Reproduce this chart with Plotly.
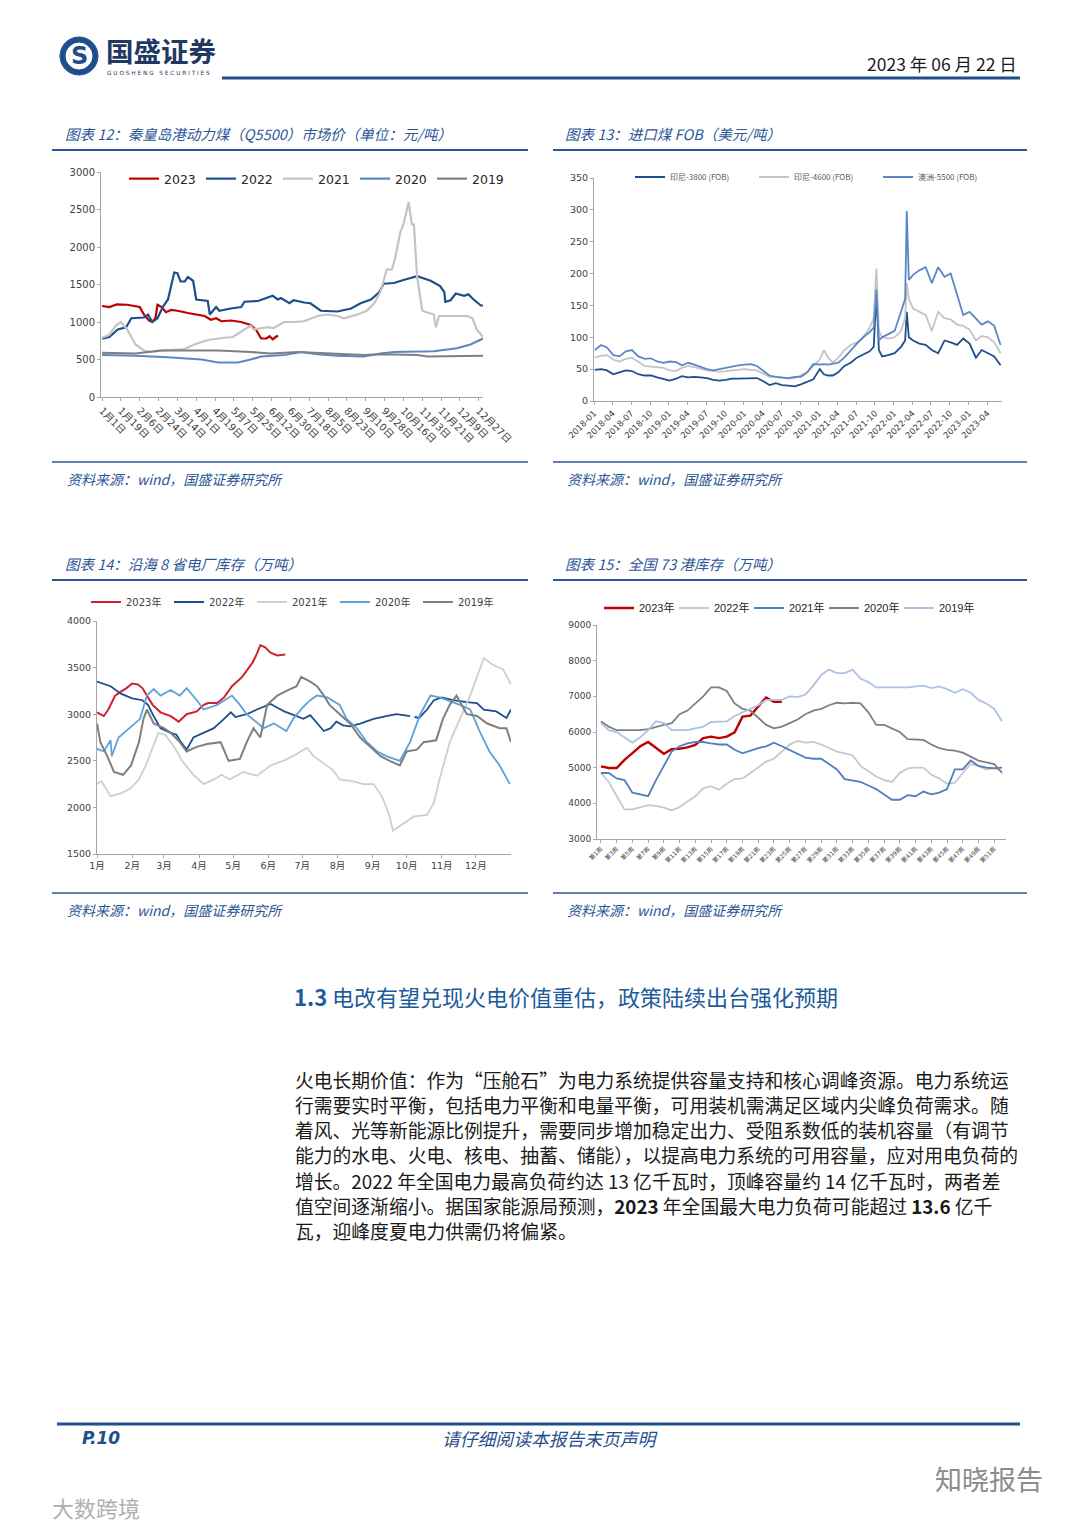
import plotly.graph_objects as go

W, H = 1080, 1527
def X(px): return px / W
def Y(py): return 1 - py / H

# ---------------- Chart 12: 秦皇岛港动力煤 (day of year) ----------------
c12_tickdays = [1, 19, 37, 55, 73, 91, 109, 127, 145, 163, 181, 199, 217, 235, 253, 271, 289, 307, 325, 343, 361]
c12_ticklabels = ["1月1日", "1月19日", "2月6日", "2月24日", "3月14日", "4月1日", "4月19日", "5月7日", "5月25日",
                  "6月12日", "6月30日", "7月18日", "8月5日", "8月23日", "9月10日", "9月28日", "10月16日",
                  "11月3日", "11月21日", "12月9日", "12月27日"]
c12_days_2023 = [1, 8, 15, 25, 37, 41, 46, 49, 52, 54, 58, 62, 67, 73, 83, 92, 99, 105, 110, 115, 124, 134, 143, 148, 153, 158, 161, 164, 169]
c12_val_2023 = [1213, 1200, 1235, 1230, 1200, 1100, 1020, 1000, 1050, 1230, 1200, 1130, 1160, 1150, 1120, 1100, 1080, 1030, 1050, 1010, 1020, 1000, 960, 900, 780, 780, 810, 770, 820]
c12_days_2022 = [1, 8, 16, 24, 29, 41, 45, 49, 54, 59, 64, 67, 70, 73, 76, 80, 83, 88, 91, 102, 104, 110, 113, 124, 134, 137, 150, 156, 164, 169, 172, 180, 184, 194, 200, 210, 226, 239, 248, 258, 266, 270, 280, 289, 299, 302, 315, 324, 328, 329, 334, 339, 347, 351, 356, 363, 365]
c12_val_2022 = [778, 800, 900, 930, 1050, 1060, 1100, 1000, 1050, 1200, 1300, 1500, 1660, 1650, 1540, 1540, 1600, 1550, 1300, 1280, 1100, 1200, 1150, 1180, 1200, 1270, 1280, 1310, 1350, 1300, 1320, 1250, 1290, 1260, 1250, 1150, 1140, 1180, 1250, 1300, 1400, 1510, 1520, 1560, 1600, 1610, 1550, 1480, 1400, 1270, 1290, 1380, 1350, 1370, 1300, 1220, 1220]
c12_days_2021 = [1, 8, 14, 19, 25, 33, 41, 48, 60, 80, 89, 102, 118, 126, 137, 143, 146, 159, 165, 175, 184, 194, 207, 216, 226, 232, 245, 254, 261, 267, 273, 278, 281, 286, 289, 294, 297, 299, 302, 307, 318, 320, 323, 350, 355, 359, 365]
c12_val_2021 = [790, 830, 950, 1000, 900, 700, 620, 600, 620, 640, 700, 760, 790, 800, 900, 950, 900, 930, 920, 1000, 1000, 1010, 1080, 1100, 1080, 1050, 1100, 1150, 1250, 1400, 1700, 1700, 1850, 2200, 2300, 2600, 2300, 2300, 1600, 1150, 1100, 930, 1080, 1080, 1050, 900, 800]
c12_days_2020 = [1, 33, 64, 96, 112, 131, 143, 153, 175, 191, 207, 226, 251, 267, 280, 302, 318, 340, 353, 365]
c12_val_2020 = [560, 550, 530, 500, 460, 460, 500, 540, 560, 600, 570, 550, 540, 580, 600, 600, 610, 650, 700, 780]
c12_days_2019 = [1, 33, 57, 112, 143, 162, 188, 223, 251, 270, 302, 312, 353, 365]
c12_val_2019 = [590, 580, 620, 620, 600, 580, 600, 580, 560, 570, 560, 540, 540, 550]

# ---------------- Chart 13: 进口煤 FOB ----------------
c13_dates = ["2018-01-05", "2018-02-05", "2018-03-05", "2018-04-05", "2018-05-05", "2018-06-05", "2018-07-05", "2018-08-05",
             "2018-09-05", "2018-10-05", "2018-11-05", "2018-12-05", "2019-01-05", "2019-02-05", "2019-03-05", "2019-04-05",
             "2019-05-05", "2019-06-05", "2019-07-05", "2019-08-05", "2019-09-05", "2019-10-05", "2019-11-05", "2019-12-05",
             "2020-01-05", "2020-02-05", "2020-03-05", "2020-04-05", "2020-05-05", "2020-06-05", "2020-07-05", "2020-08-05",
             "2020-09-05", "2020-10-05", "2020-11-05", "2020-12-05", "2021-01-05", "2021-01-25", "2021-02-15", "2021-03-10",
             "2021-04-05", "2021-05-05", "2021-06-05", "2021-07-05", "2021-08-05", "2021-09-05", "2021-09-25", "2021-10-08",
             "2021-10-20", "2021-11-05", "2021-12-05", "2022-01-05", "2022-02-05", "2022-02-25", "2022-03-05", "2022-03-15",
             "2022-04-05", "2022-05-05", "2022-06-05", "2022-07-05", "2022-08-05", "2022-09-05", "2022-10-05", "2022-11-05",
             "2022-12-05", "2023-01-05", "2023-02-05", "2023-03-05", "2023-04-05", "2023-05-05", "2023-06-05"]
c13_indo3800 = [49, 50, 48, 42, 45, 48, 47, 42, 40, 40, 37, 34, 32, 35, 39, 37, 38, 37, 36, 33, 32, 33, 35, 35,
                35, 36, 36, 31, 25, 28, 25, 24, 23, 26, 30, 34, 50, 42, 40, 40, 45, 55, 60, 68, 73, 78, 85, 170,
                80, 70, 72, 75, 85, 95, 140, 100, 95, 90, 88, 80, 75, 95, 92, 88, 98, 90, 68, 80, 75, 70, 56]
c13_indo4600 = [68, 71, 72, 65, 62, 66, 68, 62, 55, 54, 53, 52, 48, 47, 52, 55, 53, 50, 48, 47, 46, 47, 48, 50,
                50, 49, 48, 43, 38, 38, 36, 35, 36, 40, 45, 55, 65, 80, 68, 60, 68, 80, 88, 92, 100, 115, 130, 208,
                110, 100, 98, 100, 110, 130, 185, 160, 145, 140, 135, 110, 140, 130, 128, 120, 118, 112, 95, 102, 100, 92, 75]
c13_aus5500 = [80, 88, 84, 72, 70, 78, 80, 70, 66, 67, 62, 60, 62, 61, 56, 60, 57, 53, 50, 48, 50, 52, 55, 56,
               57, 58, 55, 48, 40, 38, 37, 36, 38, 38, 45, 58, 57, 58, 57, 58, 60, 68, 80, 90, 100, 108, 115, 175,
               95, 100, 105, 110, 140, 160, 298, 190, 198, 205, 210, 185, 210, 195, 200, 165, 135, 140, 130, 120, 125, 118, 88]
c13_tickvals = ["%d-%02d-01" % (y, m) for y in range(2018, 2024) for m in (1, 4, 7, 10)][:22]
c13_ticklabels = ["%d-%02d" % (y, m) for y in range(2018, 2024) for m in (1, 4, 7, 10)][:22]

# ---------------- Chart 14: 沿海8省电厂库存 ----------------
c14_tickdays = [1, 32, 60, 91, 121, 152, 182, 213, 244, 274, 305, 335]
c14_ticklabels = ["1月", "2月", "3月", "4月", "5月", "6月", "7月", "8月", "9月", "10月", "11月", "12月"]
c14_days_2023 = [1, 7, 11, 17, 23, 27, 32, 37, 41, 45, 50, 57, 66, 73, 76, 80, 89, 95, 99, 107, 113, 120, 129, 138, 142, 145, 149, 154, 160, 167]
c14_val_2023 = [3020, 2980, 3050, 3200, 3250, 3280, 3330, 3320, 3280, 3200, 3100, 3020, 2980, 2920, 2950, 3000, 3030, 3100, 3120, 3120, 3180, 3300, 3400, 3550, 3650, 3740, 3720, 3660, 3630, 3640]
c14_days_2022 = [1, 13, 22, 32, 41, 46, 50, 57, 66, 71, 75, 80, 86, 95, 104, 113, 119, 123, 133, 142, 154, 163, 166, 177, 183, 189, 195, 201, 207, 212, 218, 224, 233, 245, 256, 265, 277, 279, 281, 285, 292, 298, 305, 315, 327, 336, 342, 353, 362, 366]
c14_val_2022 = [3350, 3300, 3220, 3170, 3150, 3100, 3000, 2850, 2800, 2780, 2700, 2620, 2750, 2800, 2850, 2950, 3020, 2970, 3000, 3050, 3110, 3050, 3030, 2980, 2950, 2990, 2900, 2820, 2850, 2920, 2880, 2870, 2900, 2950, 2980, 3000, 2980, None, 2970, 2960, 3050, 3150, 3180, 3150, 3130, 3120, 3050, 3030, 2960, 3050]
c14_days_2021 = [1, 5, 13, 22, 30, 38, 44, 49, 55, 61, 69, 76, 86, 95, 104, 111, 118, 130, 142, 154, 165, 174, 183, 186, 192, 204, 209, 215, 227, 236, 245, 253, 259, 262, 268, 280, 292, 298, 303, 312, 321, 330, 336, 342, 350, 359, 366]
c14_val_2021 = [2250, 2280, 2120, 2150, 2200, 2300, 2450, 2600, 2800, 2780, 2650, 2500, 2350, 2250, 2300, 2350, 2300, 2380, 2340, 2450, 2500, 2550, 2620, 2640, 2550, 2450, 2400, 2300, 2280, 2250, 2250, 2100, 1900, 1750, 1800, 1900, 1920, 2050, 2300, 2700, 2950, 3200, 3400, 3600, 3530, 3480, 3320]
c14_days_2020 = [1, 7, 13, 14, 20, 30, 39, 45, 51, 57, 66, 74, 80, 89, 95, 107, 113, 120, 127, 133, 148, 157, 168, 174, 183, 189, 195, 204, 215, 221, 230, 239, 248, 256, 268, 277, 286, 295, 303, 321, 330, 339, 347, 356, 365]
c14_val_2020 = [2630, 2600, 2720, 2550, 2750, 2850, 2950, 3200, 3270, 3200, 3260, 3200, 3280, 3150, 3050, 3100, 3150, 3200, 3100, 3000, 2850, 2900, 2820, 2950, 3080, 3150, 3200, 3180, 3100, 2950, 2850, 2700, 2600, 2550, 2500, 2700, 3000, 3200, 3180, 3100, 3050, 2800, 2600, 2450, 2250]
c14_days_2019 = [1, 4, 10, 16, 24, 31, 38, 42, 45, 51, 60, 66, 74, 80, 89, 98, 110, 117, 127, 133, 139, 145, 151, 160, 168, 177, 181, 189, 195, 201, 206, 215, 224, 233, 242, 251, 259, 268, 274, 283, 289, 300, 306, 312, 318, 327, 336, 345, 356, 362, 366]
c14_val_2019 = [2900, 2700, 2550, 2380, 2350, 2450, 2700, 2950, 3050, 2900, 2850, 2800, 2700, 2600, 2650, 2680, 2700, 2500, 2520, 2700, 2850, 2750, 3100, 3200, 3250, 3300, 3400, 3350, 3300, 3200, 3100, 3000, 2900, 2750, 2650, 2550, 2500, 2450, 2600, 2620, 2700, 2720, 2950, 3100, 3200, 3000, 2980, 2900, 2850, 2850, 2700]

# ---------------- Chart 15: 全国73港库存 (weeks) ----------------
c15_weeks = list(range(1, 53))
c15_tickweeks = list(range(1, 53, 2))
c15_ticklabels = ["第%d周" % w for w in c15_tickweeks]
c15_2023 = [5035, 4990, 4990, 5220, 5410, 5600, 5720, 5550, 5390, 5520, 5530, 5570, 5640, 5830, 5870, 5830, 5870, 5990, 6430, 6460, 6710, 6970, 6850, 6850]
c15_2022 = [4850, 4600, 4200, 3830, 3830, 3900, 3950, 3930, 3880, 3800, 3900, 4050, 4200, 4420, 4480, 4380, 4550, 4680, 4700, 4850,
            5000, 5170, 5250, 5450, 5650, 5750, 5700, 5720, 5650, 5550, 5450, 5400, 5350, 5050, 4900, 4750, 4650, 4600, 4850, 4980,
            5000, 5000, 4800, 4700, 4550, 4580, 4850, 5100, 5050, 4950, 5000, 4900]
c15_2021 = [4850, 4850, 4700, 4650, 4300, 4250, 4200, 4650, 5050, 5450, 5600, 5680, 5720, 5720, 5680, 5650, 5650, 5500, 5400, 5480,
            5550, 5600, 5700, 5600, 5500, 5380, 5280, 5250, 5250, 5100, 4950, 4680, 4630, 4600, 4500, 4400, 4250, 4100, 4100, 4230,
            4200, 4330, 4250, 4300, 4400, 4950, 4950, 5200, 5050, 5000, 4980, 5000]
c15_2020 = [6300, 6150, 6050, 6050, 6050, 6050, 6080, 6150, 6200, 6250, 6500, 6600, 6800, 7000, 7250, 7250, 7150, 6800, 6650, 6600,
            6400, 6200, 6100, 6150, 6250, 6350, 6500, 6600, 6650, 6750, 6820, 6800, 6820, 6800, 6550, 6200, 6200, 6100, 6000, 5800,
            5800, 5780, 5650, 5550, 5500, 5480, 5420, 5300, 5200, 5150, 5100, 4850]
c15_2019 = [6250, 6050, 6000, 5850, 5700, 5850, 6050, 6300, 6250, 6050, 6050, 6050, 6100, 6150, 6280, 6300, 6300, 6450, 6550, 6650,
            6750, 6900, 6900, 6900, 7000, 6980, 7050, 7300, 7600, 7750, 7650, 7650, 7750, 7500, 7400, 7250, 7250, 7250, 7230, 7250,
            7280, 7300, 7230, 7280, 7200, 7100, 7200, 7100, 6900, 6800, 6650, 6300]

# ---------------- Styles ----------------
NAVY = "#1F4E8C"
RED = "#C00000"
TITLE_BLUE = "#2B5696"
AXIS = "#A6A6A6"
NUMFONT = "DejaVu Sans, Noto Sans CJK SC"
CJK = "Noto Sans CJK SC"

fig = go.Figure()

def line(x, y, name, color, width, xa, ya, legend):
    fig.add_trace(go.Scatter(x=x, y=y, name=name, mode="lines", connectgaps=False,
                             line=dict(color=color, width=width), xaxis=xa, yaxis=ya,
                             legend=legend, hoverinfo="skip"))

# chart 12
line(c12_days_2023, c12_val_2023, "2023", RED, 2.2, "x", "y", "legend")
line(c12_days_2022, c12_val_2022, "2022", NAVY, 2.2, "x", "y", "legend")
line(c12_days_2021, c12_val_2021, "2021", "#C4C4C4", 2.2, "x", "y", "legend")
line(c12_days_2020, c12_val_2020, "2020", "#5B87C5", 2.2, "x", "y", "legend")
line(c12_days_2019, c12_val_2019, "2019", "#7F7F7F", 2.2, "x", "y", "legend")
# chart 13
line(c13_dates, c13_indo3800, "印尼-3800 (FOB)", NAVY, 1.8, "x2", "y2", "legend2")
line(c13_dates, c13_indo4600, "印尼-4600 (FOB)", "#C4C4C4", 1.8, "x2", "y2", "legend2")
line(c13_dates, c13_aus5500, "澳洲-5500 (FOB)", "#5B87C5", 1.8, "x2", "y2", "legend2")
# chart 14
line(c14_days_2023, c14_val_2023, "2023年", "#D0202E", 2.0, "x3", "y3", "legend3")
line(c14_days_2022, c14_val_2022, "2022年", NAVY, 1.8, "x3", "y3", "legend3")
line(c14_days_2021, c14_val_2021, "2021年", "#CFCFCF", 1.8, "x3", "y3", "legend3")
line(c14_days_2020, c14_val_2020, "2020年", "#5FA2DA", 1.8, "x3", "y3", "legend3")
line(c14_days_2019, c14_val_2019, "2019年", "#7F7F7F", 2.0, "x3", "y3", "legend3")
# chart 15
line(c15_weeks[:len(c15_2023)], c15_2023, "2023年", RED, 2.4, "x4", "y4", "legend4")
line(c15_weeks, c15_2022, "2022年", "#C8C8C8", 1.8, "x4", "y4", "legend4")
line(c15_weeks, c15_2021, "2021年", "#4F7FC0", 1.8, "x4", "y4", "legend4")
line(c15_weeks, c15_2020, "2020年", "#7F7F7F", 1.8, "x4", "y4", "legend4")
line(c15_weeks, c15_2019, "2019年", "#AEC2E4", 1.8, "x4", "y4", "legend4")

def axis_common(size):
    return dict(showline=True, linecolor=AXIS, linewidth=1, showgrid=False, zeroline=False,
                ticks="outside", ticklen=3, tickcolor=AXIS, automargin=False,
                tickfont=dict(family=NUMFONT, size=size, color="#404040"), fixedrange=True)

layout = dict(
    width=W, height=H, margin=dict(l=0, r=0, t=0, b=0, pad=0, autoexpand=False),
    paper_bgcolor="white", plot_bgcolor="rgba(0,0,0,0)", showlegend=True,
    xaxis=dict(domain=[X(101), X(483)], anchor="y", range=[0, 365], tickmode="array",
               tickvals=c12_tickdays, ticktext=c12_ticklabels, tickangle=45, **axis_common(10)),
    yaxis=dict(domain=[Y(397), Y(172)], anchor="x", range=[0, 3000], dtick=500, **axis_common(10)),
    xaxis2=dict(domain=[X(594), X(1002)], anchor="y2", type="date", range=["2018-01-01", "2023-06-12"],
                tickmode="array", tickvals=c13_tickvals, ticktext=c13_ticklabels, tickangle=-45, **axis_common(8.5)),
    yaxis2=dict(domain=[Y(401), Y(178)], anchor="x2", range=[0, 350], dtick=50, **axis_common(9.5)),
    xaxis3=dict(domain=[X(97), X(511)], anchor="y3", range=[1, 366], tickmode="array",
                tickvals=c14_tickdays, ticktext=c14_ticklabels, tickangle=0, **axis_common(9.5)),
    yaxis3=dict(domain=[Y(854), Y(621)], anchor="x3", range=[1500, 4000], dtick=500, **axis_common(9.5)),
    xaxis4=dict(domain=[X(597), X(1006)], anchor="y4", range=[0.5, 52.5], tickmode="array",
                tickvals=c15_tickweeks, ticktext=c15_ticklabels, tickangle=-45, **axis_common(6)),
    yaxis4=dict(domain=[Y(839), Y(625)], anchor="x4", range=[3000, 9000], dtick=1000, **axis_common(9)),
)

def legend_cfg(xpx, ypx, ew, size, family, color="#262626"):
    return dict(orientation="h", x=X(xpx), y=Y(ypx), xanchor="left", yanchor="middle",
                entrywidth=ew, entrywidthmode="pixels", bgcolor="rgba(0,0,0,0)", borderwidth=0,
                font=dict(size=size, family=family, color=color), itemclick=False, itemdoubleclick=False,
                tracegroupgap=0)

layout["legend"] = legend_cfg(124, 179, 32, 12.5, NUMFONT)
layout["legend2"] = legend_cfg(630, 177, 79, 8, CJK, "#595959")
layout["legend3"] = legend_cfg(86, 602, 38, 10, NUMFONT, "#404040")
layout["legend4"] = legend_cfg(599, 608, 30, 11, "Liberation Sans, Noto Sans CJK SC")
fig.update_layout(**layout)

shapes = []
annotations = []

def hline(x0, x1, y, color, width):
    shapes.append(dict(type="line", xref="paper", yref="paper", x0=X(x0), x1=X(x1), y0=Y(y), y1=Y(y),
                       line=dict(color=color, width=width)))

def text(t, xpx, ypx, size, color="#1a1a1a", family=CJK, xanchor="left", yanchor="middle"):
    annotations.append(dict(text=t, x=X(xpx), y=Y(ypx), xref="paper", yref="paper", showarrow=False,
                            xanchor=xanchor, yanchor=yanchor, font=dict(size=size, color=color, family=family)))

# Header: logo
shapes.append(dict(type="circle", xref="paper", yref="paper", x0=X(60), x1=X(98), y0=Y(75), y1=Y(37),
                   fillcolor=NAVY, line=dict(color=NAVY, width=1)))
shapes.append(dict(type="circle", xref="paper", yref="paper", x0=X(66), x1=X(92), y0=Y(69), y1=Y(43),
                   fillcolor="white", line=dict(color="white", width=1)))
text("<b>S</b>", 79, 56, 24, NAVY, "DejaVu Sans", "center")
text("<b>国盛证券</b>", 104, 50, 27.5, "#1F3864")
text("G U O S H E N G   S E C U R I T I E S", 105, 67.5, 5.8, "#1F3864", "DejaVu Sans", "left", "top")
text("2023 年 06 月 22 日", 1019, 63, 17.5, "#1a1a1a", CJK, "right")
hline(222, 1020, 78, NAVY, 3)

# Chart titles and frame lines
text("<i>图表 12：秦皇岛港动力煤（Q5500）市场价（单位：元/吨）</i>", 63, 133, 14.5, TITLE_BLUE)
text("<i>图表 13：进口煤 FOB（美元/吨）</i>", 563, 133, 14.5, TITLE_BLUE)
text("<i>图表 14：沿海 8 省电厂库存（万吨）</i>", 63, 564, 14.5, TITLE_BLUE)
text("<i>图表 15：全国 73 港库存（万吨）</i>", 563, 564, 14.5, TITLE_BLUE)
for y in (150, 580):
    hline(52, 528, y, TITLE_BLUE, 2)
    hline(553, 1027, y, TITLE_BLUE, 2)
for y in (462, 893):
    hline(52, 528, y, TITLE_BLUE, 1.5)
    hline(553, 1027, y, TITLE_BLUE, 1.5)
for (xx, yy) in ((65, 479), (565, 479), (65, 910), (565, 910)):
    text("<i>资料来源：wind，国盛证券研究所</i>", xx, yy, 14, TITLE_BLUE)

# Section heading
text("<b>1.3</b> 电改有望兑现火电价值重估，政策陆续出台强化预期", 292, 996, 22, "#215A9B")

body_lines = [
    "火电长期价值：作为“压舱石”为电力系统提供容量支持和核心调峰资源。电力系统运",
    "行需要实时平衡，包括电力平衡和电量平衡，可用装机需满足区域内尖峰负荷需求。随",
    "着风、光等新能源比例提升，需要同步增加稳定出力、受阻系数低的装机容量（有调节",
    "能力的水电、火电、核电、抽蓄、储能），以提高电力系统的可用容量，应对用电负荷的",
    "增长。2022 年全国电力最高负荷约达 13 亿千瓦时，顶峰容量约 14 亿千瓦时，两者差",
    "值空间逐渐缩小。据国家能源局预测，<b>2023</b> 年全国最大电力负荷可能超过 <b>13.6</b> 亿千",
    "瓦，迎峰度夏电力供需仍将偏紧。",
]
for i, ln in enumerate(body_lines):
    text(ln, 293, 1079 + i * 25.3, 18.8, "#1a1a1a")

# Footer
hline(57, 1020, 1424, NAVY, 3)
text("<b><i>P.10</i></b>", 80, 1438, 17, NAVY, "DejaVu Sans")
text("<i>请仔细阅读本报告末页声明</i>", 550, 1438, 17.8, NAVY, CJK, "center")
text("知晓报告", 1045, 1478, 27, "#8C8C8C", CJK, "right")
text("大数跨境", 50, 1507, 22, "#B0B0B0", CJK)

fig.update_layout(shapes=shapes, annotations=annotations)
fig.write_html("out.html", config={"displayModeBar": False},
               post_script="document.body.style.margin='0px';document.body.style.padding='0px';")
